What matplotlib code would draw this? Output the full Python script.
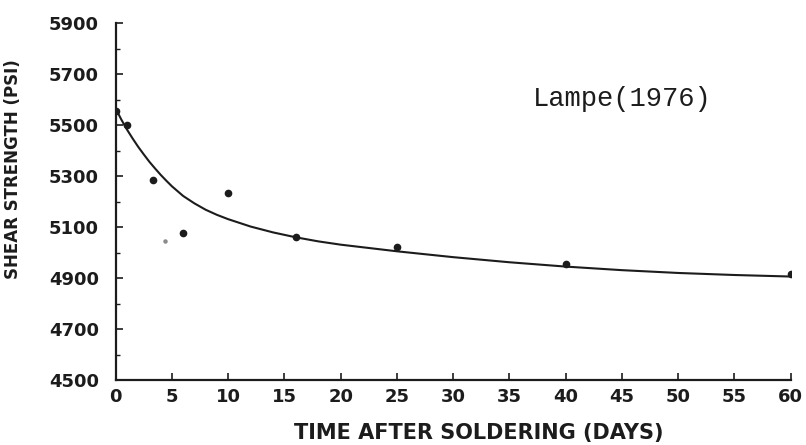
import matplotlib.pyplot as plt
from matplotlib.ticker import MultipleLocator

# ── Datos ────────────────────────────────────────────────────────────────────
point_days = [0, 1, 3.3, 6, 10, 16, 25, 40, 60]
point_psi = [5556, 5500, 5283, 5078, 5232, 5062, 5023, 4957, 4917]

faint_days = [4.4]
faint_psi = [5044]

curve_days = [0, 0.5, 1, 1.5, 2, 2.5, 3, 3.5, 4, 4.5, 5, 6, 7, 8, 9, 10,
              12, 14, 16, 18, 20, 25, 30, 35, 40, 45, 50, 55, 60]
curve_psi = [5565, 5522, 5483, 5448, 5415, 5385, 5356, 5330, 5305, 5282,
             5260, 5222, 5193, 5168, 5148, 5131, 5102, 5079, 5060, 5044,
             5031, 5005, 4982, 4962, 4945, 4931, 4920, 4912, 4906]

x_ticks = list(range(0, 61, 5))
y_ticks = list(range(4500, 5901, 200))

INK = "#1c1c1c"

fig = plt.figure(figsize=(8.06, 4.45), dpi=100)
ax = fig.add_axes([0.1435, 0.146, 0.8375, 0.802])

ax.plot(curve_days, curve_psi, color=INK, linewidth=1.5, zorder=2)
ax.plot(point_days, point_psi, "o", color=INK, markersize=4.5, zorder=3)
ax.plot(faint_days, faint_psi, "o", color="#8a8a8a", markersize=2.2, zorder=3)

ax.set_xlim(0, 60)
ax.set_ylim(4500, 5900)
ax.set_xticks(x_ticks)
ax.set_yticks(y_ticks)
ax.yaxis.set_minor_locator(MultipleLocator(100))

for side in ("top", "right"):
    ax.spines[side].set_visible(False)
for side in ("left", "bottom"):
    ax.spines[side].set_linewidth(1.6)
    ax.spines[side].set_color(INK)

ax.tick_params(axis="both", which="major", direction="in", length=5,
               width=1.2, colors=INK, labelsize=13)
ax.tick_params(axis="y", which="major", pad=12)
ax.tick_params(axis="x", which="major", pad=6)
ax.tick_params(axis="y", which="minor", direction="in", length=3,
               width=1.0, colors=INK)

for lab in ax.get_xticklabels() + ax.get_yticklabels():
    lab.set_fontweight("bold")

ax.set_xlabel("TIME AFTER SOLDERING (DAYS)", fontsize=15, color=INK,
              fontweight="bold")
ax.xaxis.set_label_coords(0.538, -0.12)
ax.set_ylabel("SHEAR STRENGTH (PSI)", fontsize=12, color=INK,
              fontweight="bold")
ax.yaxis.set_label_coords(-0.139, 0.59)

ax.text(37.1, 5603, "Lampe(1976)", family="Liberation Mono", fontsize=19.5,
        color=INK, ha="left", va="center")

fig.savefig("out.png", dpi=100)
